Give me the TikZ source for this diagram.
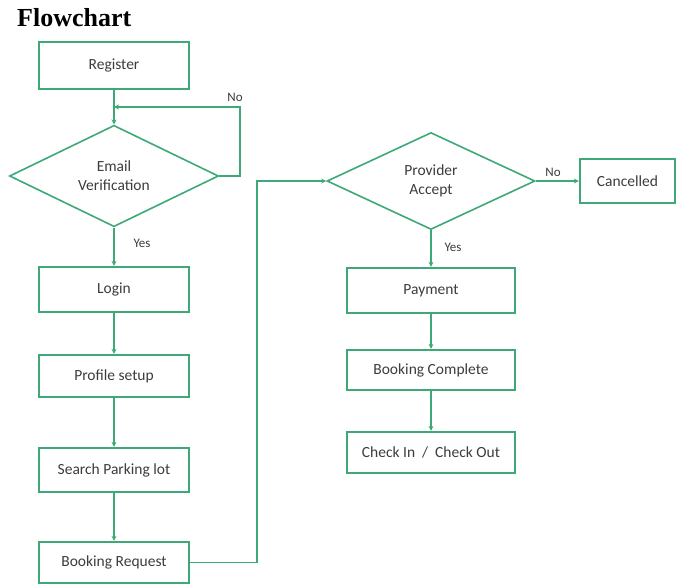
\documentclass[tikz,border=0pt]{standalone}
\usepackage{fontspec}
\setmainfont{Carlito}
\newfontfamily\titlefont{Liberation Serif}
\usetikzlibrary{shapes.geometric,arrows.meta}
\definecolor{flowgreen}{RGB}{62,168,118}
\definecolor{txtgray}{RGB}{60,60,60}
\tikzset{
 procbox/.style={draw=flowgreen, line width=2.2pt, rectangle, minimum width=150pt, text=txtgray, font=\fontsize{15.5}{18}\selectfont, inner sep=2pt},
 decbox/.style={draw=flowgreen, line width=1.6pt, diamond, text=txtgray, font=\fontsize{15.5}{19}\selectfont, align=center, inner sep=0pt},
 conn/.style={draw=flowgreen, line width=1.5pt, -{Stealth[length=5pt,width=5pt]}},
 lbl/.style={text=txtgray, font=\fontsize{13}{15}\selectfont, inner sep=0pt}
}
\begin{document}
\begin{tikzpicture}[x=1pt,y=-1pt]
\useasboundingbox (0,0) rectangle (681,586);
\node[anchor=base west, inner sep=0pt, font=\titlefont\bfseries\fontsize{26}{30}\selectfont] (title) at (17,27) {Flowchart};

\node[procbox, minimum height=47pt] (register) at (114,65.5) {Register};
\node[decbox, minimum width=209pt, minimum height=94pt] (email) at (114,176) {Email\\Verification};
\node[procbox, minimum height=45pt] (login) at (114,289.5) {Login};
\node[procbox, minimum height=42pt] (profile) at (114,376) {Profile setup};
\node[procbox, minimum height=44pt] (search) at (114,470) {Search Parking lot};
\node[procbox, minimum height=41pt] (bookreq) at (114,562.5) {Booking Request};

\node[decbox, minimum width=208pt, minimum height=97pt] (provider) at (431,181) {Provider\\Accept};
\node[procbox, minimum width=95pt, minimum height=44pt] (cancel) at (627.5,181) {Cancelled};
\node[procbox, minimum width=168pt, minimum height=45pt] (payment) at (431,290.5) {Payment};
\node[procbox, minimum width=168pt, minimum height=40pt] (bookcomp) at (431,370) {Booking Complete};
\node[procbox, minimum width=168pt, minimum height=41pt] (checkio) at (431,452.5) {Check In\ \ /\ \ Check Out};

\coordinate (merge) at (114,107);
\coordinate (loopA) at (240,176);
\coordinate (loopB) at (240,107);
\coordinate (riseA) at (257,562.5);
\coordinate (riseB) at (257,181);

\draw[conn] (register.south) -- (email.north);
\draw[conn] (email.east) -- (loopA) -- (loopB) -- (merge);
\draw[conn] (email.south) -- (login.north);
\draw[conn] (login.south) -- (profile.north);
\draw[conn] (profile.south) -- (search.north);
\draw[conn] (search.south) -- (bookreq.north);
\draw[conn] (bookreq.east) -- (riseA) -- (riseB) -- (provider.west);
\draw[conn] (provider.east) -- (cancel.west);
\draw[conn] (provider.south) -- (payment.north);
\draw[conn] (payment.south) -- (bookcomp.north);
\draw[conn] (bookcomp.south) -- (checkio.north);

\node[lbl] (no1) at (235,97) {No};
\node[lbl] (yes1) at (142,243) {Yes};
\node[lbl] (no2) at (553,172) {No};
\node[lbl] (yes2) at (453,247) {Yes};
\end{tikzpicture}
\end{document}
